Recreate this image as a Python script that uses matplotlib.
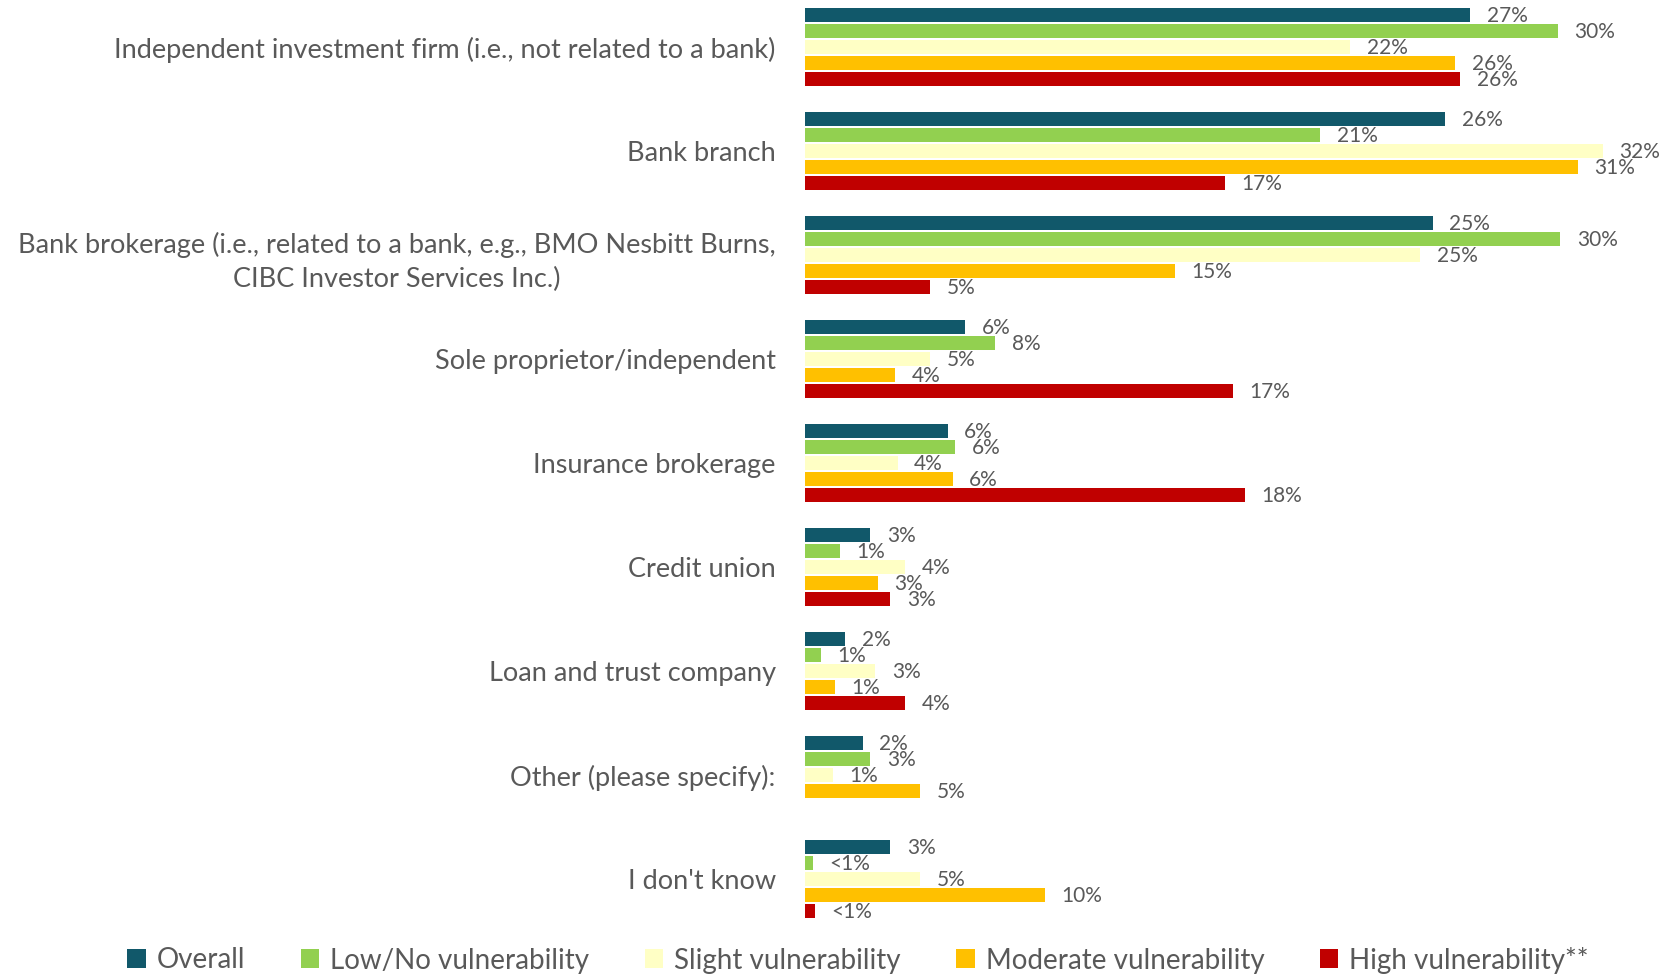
import matplotlib
matplotlib.use("Agg")
import matplotlib.pyplot as plt
from matplotlib.patches import Patch
import numpy as np

categories = [
    "Independent investment firm (i.e., not related to a bank)",
    "Bank branch",
    "Bank brokerage (i.e., related to a bank, e.g., BMO Nesbitt Burns,\nCIBC Investor Services Inc.)",
    "Sole proprietor/independent",
    "Insurance brokerage",
    "Credit union",
    "Loan and trust company",
    "Other (please specify):",
    "I don't know",
]

series_names = ["Overall", "Low/No vulnerability", "Slight vulnerability",
                "Moderate vulnerability", "High vulnerability**"]

overall  = [26.6, 25.6, 25.1, 6.4, 5.7, 2.6, 1.6, 2.3, 3.4]
low_no   = [30.1, 20.6, 30.2, 7.6, 6.0, 1.4, 0.64, 2.6, 0.3]
slight   = [21.8, 31.9, 24.6, 5.0, 3.7, 4.0, 2.8, 1.1, 4.6]
moderate = [26.0, 30.9, 14.8, 3.6, 5.9, 2.9, 1.2, 4.6, 9.6]
high     = [26.2, 16.8, 5.0, 17.1, 17.6, 3.4, 4.0, None, 0.4]

colors = ["#11586A", "#92D050", "#FFFFC5", "#FFC000", "#C00000"]
text_color = "#595959"

W, H = 1660, 977
fig = plt.figure(figsize=(W / 100, H / 100), dpi=100)

# axes placed in pixel terms: left edge at 805 px, spans to the right border
left_px, top_px, bottom_px = 805, 0, 931
ax = fig.add_axes([left_px / W, 1 - bottom_px / H, 1 - left_px / W, (bottom_px - top_px) / H])

font = "Lato"
plt.rcParams["font.family"] = [font, "DejaVu Sans"]

all_series = [overall, low_no, slight, moderate, high]
n = len(categories)
y = np.arange(n)
step = 0.1538
bar_h = 0.132


def fmt(v):
    r = int(round(v))
    return "<1%" if r < 1 else f"{r}%"


for k, (vals, col) in enumerate(zip(all_series, colors)):
    for i, v in enumerate(vals):
        if v is None:
            continue
        yc = y[i] + (k - 2) * step
        ax.barh(yc, v, height=bar_h, color=col, edgecolor="none")
        ax.annotate(fmt(v), xy=(v, yc + 0.012), xytext=(12, 0),
                    textcoords="offset points", ha="left", va="center",
                    fontsize=15, color=text_color, family=font)

ax.set_xlim(0, (W - left_px) / 25.0)
ax.set_ylim((bottom_px - 47) / 104.0, (top_px - 47) / 104.0)

ax.set_yticks(y)
ax.set_yticklabels(categories, fontsize=19.5, color=text_color, family=font,
                   multialignment="center", linespacing=1.45)
ax.tick_params(axis="y", length=0, pad=21)
ax.set_xticks([])
for s in ax.spines.values():
    s.set_visible(False)

handles = [Patch(facecolor=c, edgecolor="none") for c in colors]
fig.legend(handles, series_names, loc="center", ncol=5,
           bbox_to_anchor=(858 / W, 1 - 960 / H), frameon=False,
           prop={"family": font, "size": 20}, labelcolor=text_color,
           handlelength=0.66, handleheight=0.66, handletextpad=0.4,
           columnspacing=2.0)

fig.savefig("out.png", dpi=100)
